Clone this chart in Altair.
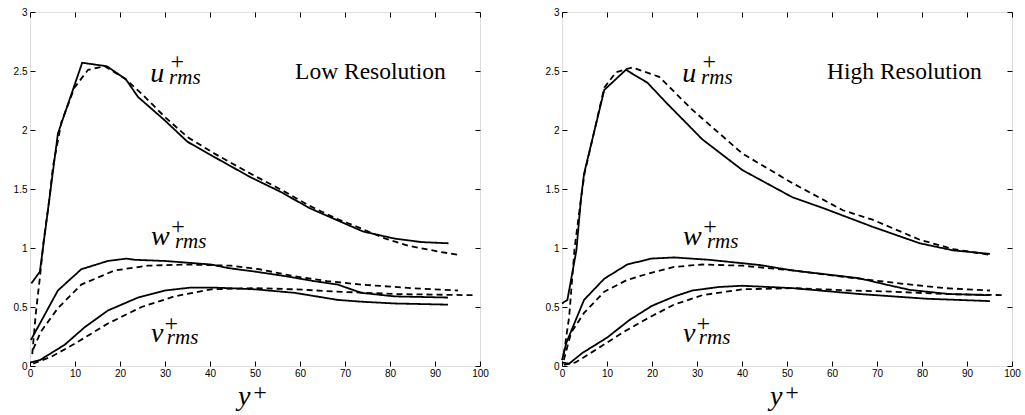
import altair as alt
import pandas as pd

# ---------------- data ----------------
X_TICKS = [0, 10, 20, 30, 40, 50, 60, 70, 80, 90, 100]
Y_TICKS = [0, 0.5, 1, 1.5, 2, 2.5, 3]
PANELS = ["Low Resolution", "High Resolution"]

# Low resolution
lo_u_solid_x = [0.3, 2.2, 6.2, 11.6, 17.1, 21.3, 24, 30, 35, 41, 49, 56, 62, 68, 74, 81, 87, 93]
lo_u_solid_y = [0.70, 0.80, 1.97, 2.57, 2.54, 2.43, 2.28, 2.08, 1.90, 1.77, 1.60, 1.47, 1.34, 1.24, 1.14, 1.08, 1.05, 1.04]
lo_u_dash_x = [0.5, 1.3, 2.2, 3.0, 4.3, 5.1, 7, 9.9, 12.9, 16.6, 21.3, 25, 30, 35, 41, 49, 56, 62, 68, 72, 79, 84, 90.7, 95.6]
lo_u_dash_y = [0.10, 0.45, 0.75, 1.05, 1.41, 1.69, 2.07, 2.36, 2.51, 2.54, 2.43, 2.30, 2.11, 1.94, 1.80, 1.63, 1.49, 1.36, 1.25, 1.19, 1.08, 1.02, 0.97, 0.94]
lo_w_solid_x = [0.2, 6.2, 11.4, 17.3, 21.4, 23.3, 30, 40.3, 44, 50, 57, 63, 68.4, 73.6, 81, 92.9]
lo_w_solid_y = [0.22, 0.64, 0.82, 0.89, 0.91, 0.90, 0.89, 0.86, 0.83, 0.80, 0.76, 0.72, 0.69, 0.62, 0.59, 0.58]
lo_w_dash_x = [0.7, 2.4, 6.2, 11.4, 18.8, 26.2, 35, 44.7, 51, 58.8, 66, 73.6, 84.8, 95.1]
lo_w_dash_y = [0.14, 0.29, 0.49, 0.69, 0.81, 0.85, 0.86, 0.85, 0.82, 0.76, 0.72, 0.69, 0.66, 0.64]
lo_v_solid_x = [0.2, 2.2, 7.7, 12.2, 17.3, 24, 30, 35.8, 40.3, 44, 50, 58.8, 68.4, 73.6, 81, 92.9]
lo_v_solid_y = [0.03, 0.05, 0.18, 0.33, 0.47, 0.58, 0.64, 0.665, 0.665, 0.66, 0.65, 0.62, 0.56, 0.545, 0.53, 0.52]
lo_v_dash_x = [0.7, 4.8, 10, 17.3, 24.8, 32.1, 40.3, 50, 58.9, 68.4, 81, 98.4]
lo_v_dash_y = [0.02, 0.08, 0.19, 0.36, 0.50, 0.59, 0.65, 0.66, 0.65, 0.63, 0.61, 0.60]

# High resolution
hi_u_solid_x = [0, 1.2, 3.2, 4.2, 4.9, 9.4, 14.2, 19, 23.2, 31.2, 40.1, 51.2, 57.9, 69, 79.5, 86.9, 95.1]
hi_u_solid_y = [0.53, 0.56, 0.98, 1.41, 1.63, 2.34, 2.51, 2.40, 2.23, 1.92, 1.66, 1.43, 1.34, 1.18, 1.04, 0.98, 0.95]
hi_u_dash_x = [0.4, 1.6, 2.8, 4.2, 5, 9.4, 12, 15.6, 21.6, 29, 40.1, 51.2, 62.4, 69, 79.5, 87, 95.5]
hi_u_dash_y = [0.10, 0.42, 1.0, 1.41, 1.63, 2.36, 2.49, 2.53, 2.45, 2.17, 1.80, 1.55, 1.32, 1.24, 1.07, 0.99, 0.94]
hi_w_solid_x = [0, 1.0, 4.9, 9.4, 14.5, 19.8, 24.9, 32.7, 43.9, 51.2, 58, 66.1, 72, 77.3, 86, 95.1]
hi_w_solid_y = [0.05, 0.20, 0.56, 0.74, 0.86, 0.91, 0.92, 0.90, 0.856, 0.81, 0.78, 0.743, 0.69, 0.645, 0.61, 0.60]
hi_w_dash_x = [0.4, 2, 4.9, 9.4, 14.5, 19.8, 24.9, 31.2, 40.1, 51.2, 66, 75, 85, 95.1]
hi_w_dash_y = [0.05, 0.28, 0.45, 0.63, 0.73, 0.79, 0.84, 0.86, 0.85, 0.81, 0.74, 0.70, 0.66, 0.64]
hi_v_solid_x = [0, 1.6, 4.5, 10, 15, 20, 25, 29, 35, 40.1, 51.2, 66.1, 81, 95.1]
hi_v_solid_y = [0.03, 0.02, 0.11, 0.24, 0.39, 0.51, 0.59, 0.64, 0.67, 0.68, 0.66, 0.61, 0.57, 0.55]
hi_v_dash_x = [0.4, 3, 7.6, 14.2, 19.8, 24.9, 31.2, 40.1, 51.2, 63.9, 73.5, 85, 98.4]
hi_v_dash_y = [0.01, 0.03, 0.14, 0.30, 0.42, 0.52, 0.60, 0.65, 0.66, 0.64, 0.63, 0.61, 0.60]

SERIES = [
    (PANELS[0], "u", "solid", lo_u_solid_x, lo_u_solid_y),
    (PANELS[0], "u", "dashed", lo_u_dash_x, lo_u_dash_y),
    (PANELS[0], "w", "solid", lo_w_solid_x, lo_w_solid_y),
    (PANELS[0], "w", "dashed", lo_w_dash_x, lo_w_dash_y),
    (PANELS[0], "v", "solid", lo_v_solid_x, lo_v_solid_y),
    (PANELS[0], "v", "dashed", lo_v_dash_x, lo_v_dash_y),
    (PANELS[1], "u", "solid", hi_u_solid_x, hi_u_solid_y),
    (PANELS[1], "u", "dashed", hi_u_dash_x, hi_u_dash_y),
    (PANELS[1], "w", "solid", hi_w_solid_x, hi_w_solid_y),
    (PANELS[1], "w", "dashed", hi_w_dash_x, hi_w_dash_y),
    (PANELS[1], "v", "solid", hi_v_solid_x, hi_v_solid_y),
    (PANELS[1], "v", "dashed", hi_v_dash_x, hi_v_dash_y),
]

# curve labels (letter, subscript, superscript)
LABEL_LETTERS = ["u", "w", "v"]
LABEL_SUB = "rms"
LABEL_SUP = "+"
AXIS_LETTER = "y"

rows = []
for panel, var, style, xs, ys in SERIES:
    for i, (xv, yv) in enumerate(zip(xs, ys)):
        rows.append({"panel": panel, "key": f"{var}-{style}", "style": style, "i": i, "x": xv, "y": yv})
df = pd.DataFrame(rows)

# annotation layout (data coordinates)
ital_rows = [
    {"x": 26.7, "y": 2.407, "text": LABEL_LETTERS[0], "size": 28},
    {"x": 30.9, "y": 2.390, "text": LABEL_SUB, "size": 21},
    {"x": 26.9, "y": 1.025, "text": LABEL_LETTERS[1], "size": 28},
    {"x": 32.2, "y": 1.000, "text": LABEL_SUB, "size": 21},
    {"x": 26.9, "y": 0.203, "text": LABEL_LETTERS[2], "size": 28},
    {"x": 30.4, "y": 0.187, "text": LABEL_SUB, "size": 21},
    {"x": 46.2, "y": -0.33, "text": AXIS_LETTER, "size": 28},
]
plus_rows = [
    {"x": 32.7, "y": 2.52, "text": LABEL_SUP},
    {"x": 32.9, "y": 1.12, "text": LABEL_SUP},
    {"x": 31.4, "y": 0.298, "text": LABEL_SUP},
    {"x": 51.1, "y": -0.288, "text": LABEL_SUP},
]
ital_df = pd.DataFrame(ital_rows)
plus_df = pd.DataFrame(plus_rows)

W, H = 450, 354
xscale = alt.Scale(domain=[0, 100], nice=False, zero=False)
yscale = alt.Scale(domain=[0, 3], nice=False, zero=False)

common_axis = dict(grid=False, domain=False, title=None, tickSize=5, offset=-5,
                   tickColor="black", tickWidth=1, labelFlush=False, labelOverlap=False)


def make_panel(name):
    d = df[df.panel == name]
    x_main = alt.X("x:Q", scale=xscale,
                   axis=alt.Axis(values=X_TICKS, orient="bottom", labelPadding=2,
                                 labelExpr="'' + datum.value", **common_axis))
    y_main = alt.Y("y:Q", scale=yscale,
                   axis=alt.Axis(values=Y_TICKS, orient="left", labelPadding=3,
                                 labelExpr="'' + datum.value", **common_axis))
    lines = alt.Chart(d).mark_line(color="black", strokeWidth=1.8, strokeCap="butt").encode(
        x=x_main, y=y_main, detail="key:N", order="i:Q",
        strokeDash=alt.StrokeDash("style:N", legend=None,
                                  scale=alt.Scale(domain=["solid", "dashed"], range=[[1, 0], [6, 4]])),
    )
    mirror = alt.Chart(d).mark_line(opacity=0).encode(
        x=alt.X("x:Q", scale=xscale,
                axis=alt.Axis(values=X_TICKS, orient="top", labels=False, **common_axis)),
        y=alt.Y("y:Q", scale=yscale,
                axis=alt.Axis(values=Y_TICKS, orient="right", labels=False, **common_axis)),
        detail="key:N",
    )
    ax = dict(scale=xscale, axis=None)
    ay = dict(scale=yscale, axis=None)
    ital = alt.Chart(ital_df).mark_text(font="Liberation Serif", fontStyle="italic",
                                         align="left", baseline="alphabetic", color="black").encode(
        x=alt.X("x:Q", **ax), y=alt.Y("y:Q", **ay),
        text="text:N", size=alt.Size("size:Q", scale=None, legend=None))
    plus = alt.Chart(plus_df).mark_text(font="Liberation Serif", fontSize=24,
                                         align="center", baseline="alphabetic", color="black").encode(
        x=alt.X("x:Q", **ax), y=alt.Y("y:Q", **ay), text="text:N")
    title = alt.Chart(pd.DataFrame({"x": [58.9], "y": [2.43], "text": [name]})).mark_text(
        font="Liberation Serif", fontSize=23.5, align="left", baseline="alphabetic", color="black").encode(
        x=alt.X("x:Q", **ax), y=alt.Y("y:Q", **ay), text="text:N")
    return alt.layer(lines, mirror, ital, plus, title).properties(width=W, height=H)


chart = alt.hconcat(make_panel(PANELS[0]), make_panel(PANELS[1]), spacing=55).properties(
    padding={"left": 12, "top": 6, "right": 0, "bottom": 0}
).configure_view(stroke="black", strokeWidth=1).configure_axis(
    labelFont="Liberation Sans", labelFontSize=12.5, labelColor="black"
).configure(background="white")

chart.save("out.html", embed_options={"renderer": "svg", "actions": False})
